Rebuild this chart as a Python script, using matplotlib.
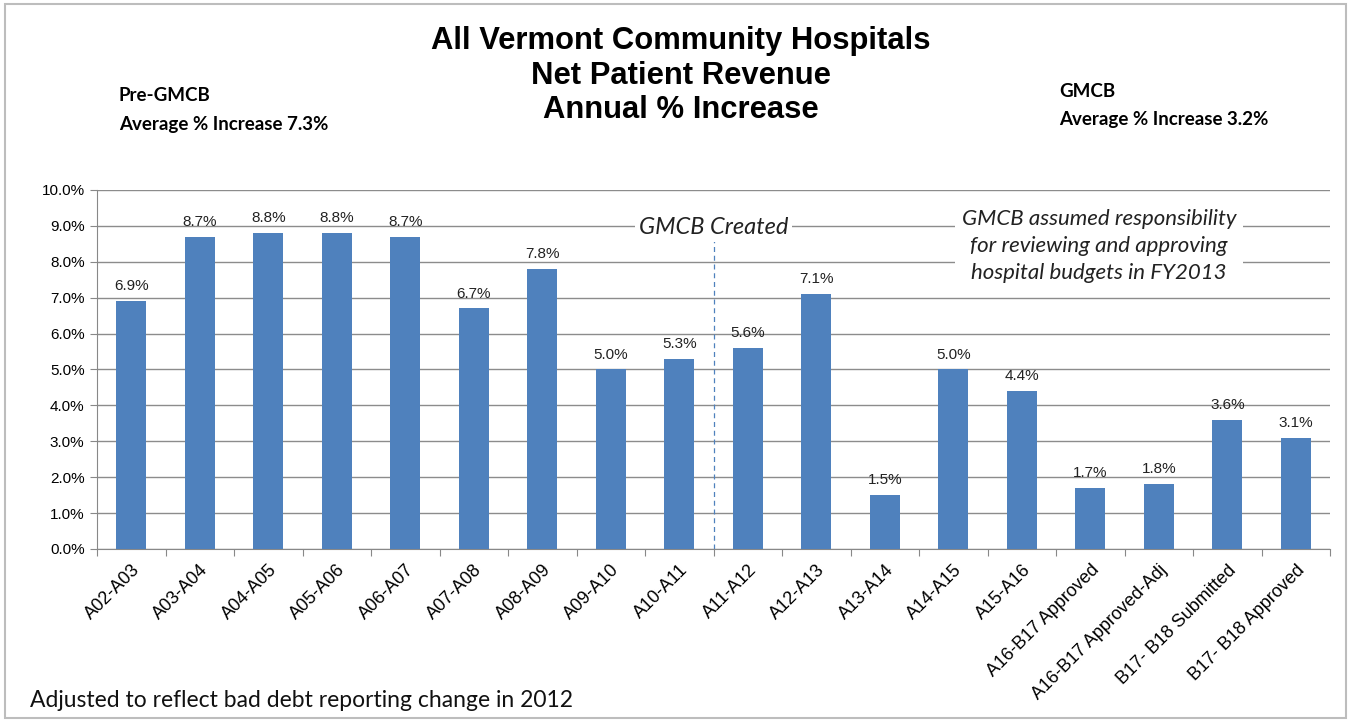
import matplotlib
matplotlib.use("Agg")
import matplotlib.pyplot as plt
from matplotlib.patches import Rectangle

categories = ["A02-A03", "A03-A04", "A04-A05", "A05-A06", "A06-A07", "A07-A08",
              "A08-A09", "A09-A10", "A10-A11", "A11-A12", "A12-A13", "A13-A14",
              "A14-A15", "A15-A16", "A16-B17 Approved", "A16-B17 Approved-Adj",
              "B17- B18 Submitted", "B17- B18 Approved"]
values = [6.9, 8.7, 8.8, 8.8, 8.7, 6.7, 7.8, 5.0, 5.3, 5.6, 7.1, 1.5, 5.0, 4.4,
          1.7, 1.8, 3.6, 3.1]
yticks = [0, 1, 2, 3, 4, 5, 6, 7, 8, 9, 10]

BAR = "#4F81BD"
fig = plt.figure(figsize=(13.51, 7.21), dpi=100)
fig.patches.append(Rectangle((0.004, 0.004), 0.992, 0.99, transform=fig.transFigure,
                             fill=False, edgecolor="#bdbdbd", linewidth=1.5))

ax = fig.add_axes([0.0718, 0.2386, 0.9127, 0.4979])
x = list(range(len(categories)))
ax.bar(x, values, width=0.44, color=BAR, zorder=3)
for xi, v in zip(x, values):
    ax.text(xi, v + 0.22, f"{v:.1f}%", ha="center", va="bottom",
            fontsize=11, family="Liberation Sans", color="#222222", zorder=4)

ax.set_xlim(-0.5, len(categories) - 0.5)
ax.set_ylim(0, 10)
ax.set_yticks(yticks)
ax.set_yticklabels([f"{t:.1f}%" for t in yticks], family="Liberation Sans", fontsize=11)
ax.set_xticks([i - 0.5 for i in range(len(categories) + 1)], minor=False)
ax.set_xticklabels([])
ax.set_xticks(x, minor=True)
ax.set_xticklabels(categories, minor=True, rotation=45, ha="right",
                   rotation_mode="anchor", family="Liberation Sans", fontsize=13)
ax.tick_params(axis="x", which="minor", length=0, pad=9)
ax.tick_params(axis="x", which="major", length=5, color="#888888")
ax.tick_params(axis="y", length=5, color="#888888", pad=4)
ax.yaxis.grid(True, color="#8c8c8c", linewidth=1.0, zorder=0)
for s in ["top", "right"]:
    ax.spines[s].set_visible(False)
for s in ["left", "bottom"]:
    ax.spines[s].set_color("#888888")

ax.plot([8.5, 8.5], [0, 8.6], linestyle=(0, (4, 3)), color="#4F81BD",
        linewidth=0.9, zorder=2)
ax.text(8.5, 8.95, "GMCB Created", ha="center", va="center", fontsize=17,
        style="italic", family="Lato", color="#222222", zorder=5,
        bbox=dict(facecolor="white", edgecolor="none", pad=3))
ax.text(14.13, 8.44, "GMCB assumed responsibility\nfor reviewing and approving\nhospital budgets in FY2013",
        ha="center", va="center", fontsize=16, style="italic", family="Lato",
        color="#222222", linespacing=1.42, zorder=5,
        bbox=dict(facecolor="white", edgecolor="none", pad=5))

fig.text(0.504, 0.964, "All Vermont Community Hospitals\nNet Patient Revenue\nAnnual % Increase",
         ha="center", va="top", fontsize=22.3, fontweight="bold",
         family="Liberation Sans", linespacing=1.2)
fig.text(0.088, 0.868, "Pre-GMCB", fontsize=13.5, fontweight="bold", family="Lato", va="center")
fig.text(0.088, 0.828, "Average % Increase 7.3%", fontsize=13.5, fontweight="bold", family="Lato", va="center")
fig.text(0.784, 0.873, "GMCB", fontsize=13.5, fontweight="bold", family="Lato", va="center")
fig.text(0.784, 0.834, "Average % Increase 3.2%", fontsize=13.5, fontweight="bold", family="Lato", va="center")
fig.text(0.022, 0.029, "Adjusted to reflect bad debt reporting change in 2012",
         fontsize=16.5, family="Lato", va="center", color="#111111")

fig.savefig("out.png", dpi=100)
